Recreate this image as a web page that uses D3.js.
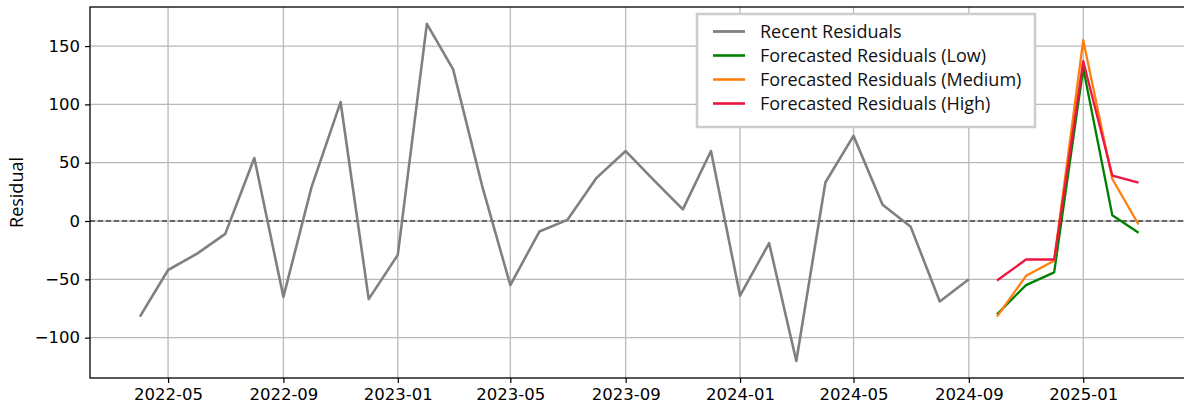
<!DOCTYPE html>
<html>
<head>
<meta charset="utf-8">
<script src="https://cdn.jsdelivr.net/npm/d3@7"></script>
<style>
  html, body { margin: 0; padding: 0; background: #fff; }
  svg { display: block; }
</style>
</head>
<body>
<svg id="chart" width="1184" height="410"></svg>
<script>
// Monthly residuals (observed period)
const recentMonths = [
  "2022-04","2022-05","2022-06","2022-07","2022-08","2022-09","2022-10","2022-11","2022-12",
  "2023-01","2023-02","2023-03","2023-04","2023-05","2023-06","2023-07","2023-08","2023-09",
  "2023-10","2023-11","2023-12","2024-01","2024-02","2024-03","2024-04","2024-05","2024-06",
  "2024-07","2024-08","2024-09"
];
const recentValues = [
  -82, -42, -28, -11, 54, -65, 29, 102, -67,
  -29, 169, 130, 30, -55, -9, 1, 37, 60,
  35, 10, 60, -64, -19, -120, 33, 73, 14,
  -5, -69, -50
];

// Forecast horizon and scenario residuals
const forecastMonths = ["2024-10","2024-11","2024-12","2025-01","2025-02","2025-03"];
const forecastLow    = [-80, -55, -44, 131, 5, -10];
const forecastMedium = [-82, -47, -34, 155, 36, -3];
const forecastHigh   = [-51, -33, -33, 137, 39, 33];

const xTickLabels = ["2022-05","2022-09","2023-01","2023-05","2023-09","2024-01","2024-05","2024-09","2025-01"];
const yTickValues = [-100, -50, 0, 50, 100, 150];

const seriesNames = ["Recent Residuals","Forecasted Residuals (Low)","Forecasted Residuals (Medium)","Forecasted Residuals (High)"];
const seriesColors = ["#808080","#008000","#ff7f0e","#ee1540"];

const parseMonth = d3.timeParse("%Y-%m");

const margin = { left: 90, top: 7, right: 1188.5, bottom: 378 };
const svg = d3.select("#chart");

// x domain padded by 5% of the data span on each side
const allDates = recentMonths.concat(forecastMonths).map(parseMonth);
const [d0, d1] = d3.extent(allDates);
const pad = (d1 - d0) * 0.05;
const x = d3.scaleTime()
  .domain([new Date(+d0 - pad), new Date(+d1 + pad)])
  .range([margin.left, margin.right]);

const y = d3.scaleLinear()
  .domain([-134.6, 183.5])
  .range([margin.bottom, margin.top]);

const tickFont = "'DejaVu Sans', sans-serif";
const textFont = "'Open Sans', 'Noto Sans', sans-serif";

// grid
const gx = svg.append("g").attr("class", "grid-x");
gx.selectAll("line").data(xTickLabels.map(parseMonth)).join("line")
  .attr("x1", d => x(d)).attr("x2", d => x(d))
  .attr("y1", margin.top).attr("y2", margin.bottom)
  .attr("stroke", "#b8b8b8").attr("stroke-width", 1.3);
const gy = svg.append("g").attr("class", "grid-y");
gy.selectAll("line").data(yTickValues).join("line")
  .attr("x1", margin.left).attr("x2", margin.right)
  .attr("y1", d => y(d)).attr("y2", d => y(d))
  .attr("stroke", "#b8b8b8").attr("stroke-width", 1.3);

// zero reference
svg.append("line")
  .attr("x1", margin.left).attr("x2", margin.right)
  .attr("y1", y(0)).attr("y2", y(0))
  .attr("stroke", "#000").attr("stroke-width", 1.2)
  .attr("stroke-dasharray", "5,3");

const line = d3.line().x(d => x(d.date)).y(d => y(d.value));
const toPoints = (months, vals) => months.map((m, i) => ({ date: parseMonth(m), value: vals[i] }));

svg.append("path").datum(toPoints(recentMonths, recentValues))
  .attr("d", line).attr("fill", "none")
  .attr("stroke", seriesColors[0]).attr("stroke-width", 2.6)
  .attr("stroke-linejoin", "round");

[forecastLow, forecastMedium, forecastHigh].forEach((vals, i) => {
  svg.append("path").datum(toPoints(forecastMonths, vals))
    .attr("d", line).attr("fill", "none")
    .attr("stroke", seriesColors[i + 1]).attr("stroke-width", 2.3)
    .attr("stroke-linejoin", "round");
});

// axes
const xAxis = d3.axisBottom(x)
  .tickValues(xTickLabels.map(parseMonth))
  .tickFormat(d3.timeFormat("%Y-%m"))
  .tickSize(5).tickPadding(5);
const xg = svg.append("g").attr("transform", `translate(0,${margin.bottom})`).call(xAxis);
xg.select(".domain").remove();
xg.selectAll("text").attr("font-family", tickFont).attr("font-size", 16.5).attr("fill", "#000");
xg.selectAll("line").attr("stroke", "#000").attr("stroke-width", 1.2);

const yAxis = d3.axisLeft(y)
  .tickValues(yTickValues)
  .tickFormat(d => d < 0 ? "\u2212" + Math.abs(d) : String(d))
  .tickSize(5).tickPadding(5);
const yg = svg.append("g").attr("transform", `translate(${margin.left},0)`).call(yAxis);
yg.select(".domain").remove();
yg.selectAll("text").attr("font-family", tickFont).attr("font-size", 16.5).attr("fill", "#000");
yg.selectAll("line").attr("stroke", "#000").attr("stroke-width", 1.2);

// frame
svg.append("rect")
  .attr("x", margin.left).attr("y", margin.top)
  .attr("width", margin.right - margin.left).attr("height", margin.bottom - margin.top)
  .attr("fill", "none").attr("stroke", "#000").attr("stroke-width", 1.3);

// y label
svg.append("text")
  .attr("transform", `translate(23,${(y(183.5) + y(-134.6)) / 2}) rotate(-90)`)
  .attr("text-anchor", "middle")
  .attr("font-family", textFont).attr("font-size", 18)
  .text("Residual");

// legend
const lg = svg.append("g").attr("transform", "translate(697,14)");
lg.append("rect").attr("width", 338).attr("height", 113)
  .attr("fill", "#fff").attr("stroke", "#cccccc").attr("stroke-width", 2.5);
seriesNames.forEach((name, i) => {
  const yy = 17.5 + i * 24;
  lg.append("line").attr("x1", 16).attr("x2", 48).attr("y1", yy).attr("y2", yy)
    .attr("stroke", seriesColors[i]).attr("stroke-width", i === 0 ? 2.8 : 2.6);
  lg.append("text").attr("x", 63).attr("y", yy).attr("dy", "0.35em")
    .attr("font-family", textFont).attr("font-size", 18).attr("fill", "#111")
    .text(name);
});
</script>
</body>
</html>
